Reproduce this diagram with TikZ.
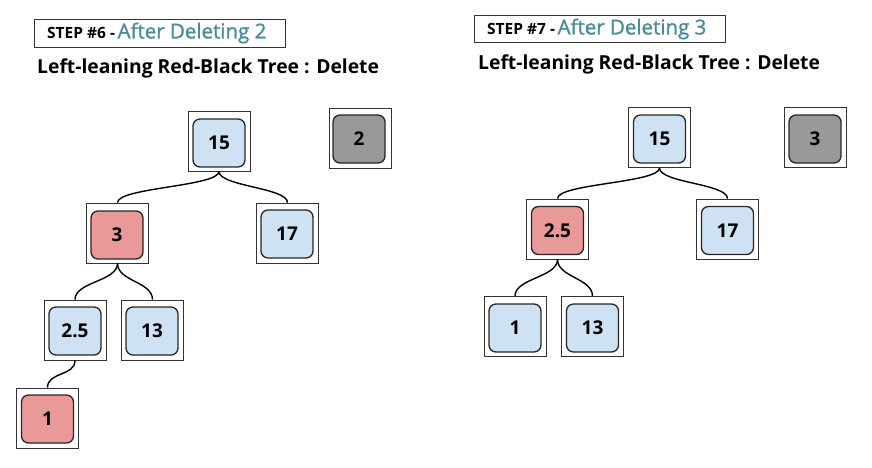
\documentclass[tikz,border=0pt]{standalone}
\usepackage{fontspec}
\setmainfont{Open Sans}
\newfontfamily\semib{Open Sans}[FakeBold=1.2]
\definecolor{nblue}{HTML}{CFE2F3}
\definecolor{nred}{HTML}{EA9999}
\definecolor{ngray}{HTML}{999999}
\definecolor{teal2}{HTML}{4A8B9A}
\tikzset{
  frame/.style={draw=black!80, line width=0.8pt, minimum width=62pt, minimum height=60pt, inner sep=0pt},
  keybox/.style={draw=black!85, line width=1.3pt, rounded corners=7pt, minimum width=52pt, minimum height=48pt, inner sep=0pt, font=\bfseries\fontsize{19}{19}\selectfont},
  bluek/.style={keybox, fill=nblue},
  redk/.style={keybox, fill=nred},
  grayk/.style={keybox, fill=ngray},
  link/.style={line width=1.4pt, black},
  stepframe/.style={draw=black!80, line width=1pt},
  titletext/.style={font=\bfseries\fontsize{19.3}{19.3}\selectfont, anchor=west, inner sep=0pt},
  steptext/.style={anchor=west, inner sep=0pt},
}
\newcommand{\steplabel}[2]{{\bfseries\fontsize{15.5}{15.5}\selectfont STEP \##1 -} {\color{teal2}\semib\fontsize{20.5}{20.5}\selectfont After Deleting #2}}
\begin{document}
\begin{tikzpicture}[x=1pt,y=-1pt]
\useasboundingbox (0,0) rectangle (872,467);
% ---- left panel ----
\draw[stepframe] (34,19) rectangle (285,47);
\node[steptext] (s6) at (47,33) {\steplabel{6}{2}};
\node[titletext] (t6) at (37,68) {Left-leaning Red-Black Tree : Delete};

\node[frame] (a15) at (219,141) {}; \node[bluek] (b15) at (219,143) {15};
\node[frame] (a2) at (360,138.5) {}; \node[grayk] (b2) at (359,139) {2};
\node[frame] (a3) at (117.5,233) {}; \node[redk] (b3) at (117,235) {3};
\node[frame] (a17) at (287.5,233) {}; \node[bluek] (b17) at (287,234) {17};
\node[frame] (a25) at (75,330) {}; \node[bluek] (b25) at (75,331) {2.5};
\node[frame] (a13) at (152.5,330) {}; \node[bluek] (b13) at (152,331) {13};
\node[frame] (a1) at (47.5,418) {}; \node[redk] (b1) at (47.5,419) {1};

\draw[link] (a15.south) .. controls +(0,15) and +(0,-15) .. (a3.north);
\draw[link] (a15.south) .. controls +(0,15) and +(0,-15) .. (a17.north);
\draw[link] (a3.south) .. controls +(0,18) and +(0,-18) .. (a25.north);
\draw[link] (a3.south) .. controls +(0,18) and +(0,-18) .. (a13.north);
\draw[link] (a25.south) .. controls +(0,16) and +(0,-16) .. (a1.north);

% ---- right panel ----
\draw[stepframe] (474,15) rectangle (725,42);
\node[steptext] (s7) at (487,29) {\steplabel{7}{3}};
\node[titletext] (t7) at (478,64) {Left-leaning Red-Black Tree : Delete};

\node[frame] (c15) at (659.5,137.5) {}; \node[bluek] (d15) at (659.5,139) {15};
\node[frame] (c3) at (815,137.5) {}; \node[grayk] (d3) at (815,139) {3};
\node[frame] (c25) at (557.5,229) {}; \node[redk] (d25) at (557.5,230.5) {2.5};
\node[frame] (c17) at (727.5,229) {}; \node[bluek] (d17) at (727.5,230.5) {17};
\node[frame] (c1) at (515,326.5) {}; \node[bluek] (d1) at (515,328) {1};
\node[frame] (c13) at (592.5,326.5) {}; \node[bluek] (d13) at (592.5,328) {13};

\draw[link] (c15.south) .. controls +(0,15) and +(0,-15) .. (c25.north);
\draw[link] (c15.south) .. controls +(0,15) and +(0,-15) .. (c17.north);
\draw[link] (c25.south) .. controls +(0,18) and +(0,-18) .. (c1.north);
\draw[link] (c25.south) .. controls +(0,18) and +(0,-18) .. (c13.north);
\end{tikzpicture}
\end{document}
